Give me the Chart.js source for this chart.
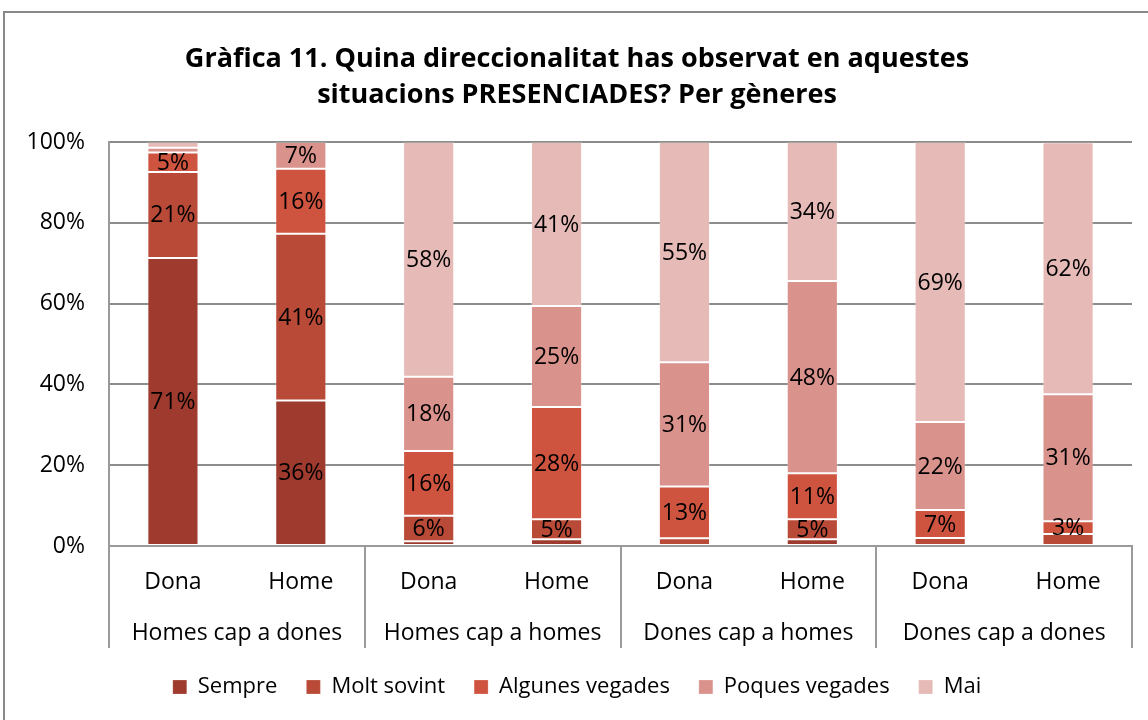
<!DOCTYPE html>
<html><head><meta charset="utf-8">
<script src="https://cdn.jsdelivr.net/npm/chart.js@4.4.1/dist/chart.umd.min.js"></script>
<style>
html,body{margin:0;padding:0;background:#fff;overflow:hidden}
#frame{position:absolute;left:3px;top:11px;width:1200px;height:800px;border:2px solid #898989;box-sizing:border-box}
#c{position:absolute;left:0;top:0}
</style></head><body>
<div id="frame"></div>
<canvas id="c" width="1148" height="720"></canvas>
<script>
const categories = ['Dona','Home','Dona','Home','Dona','Home','Dona','Home'];
const groups = ['Homes cap a dones','Homes cap a homes','Dones cap a homes','Dones cap a dones'];
const seriesNames = ['Sempre','Molt sovint','Algunes vegades','Poques vegades','Mai'];
const sempre         = [71.3, 36.0,  1.2,  1.7,  0.0,  1.7,  0.0,  0.0];
const moltSovint     = [21.3, 41.3,  6.3,  4.9,  1.9,  4.9,  2.0,  2.95];
const algunesVegades = [ 4.8, 16.1, 16.0, 27.8, 12.8, 11.4,  6.9,  3.2];
const poquesVegades  = [ 1.2,  6.6, 18.4, 25.0, 30.8, 47.6, 21.8, 31.4];
const mai            = [ 1.4,  0.0, 58.1, 40.6, 54.5, 34.4, 69.3, 62.4];
const seriesColors = ['#9e3b2e','#b84a37','#cf5440','#da928c','#e6bab6'];
const yTickValues = [0,20,40,60,80,100];

const FONT = "'Open Sans', 'Noto Sans', sans-serif";
const seriesData = [sempre, moltSovint, algunesVegades, poquesVegades, mai];

const datasets = seriesNames.map((n,i)=>({
  label:n, data:seriesData[i], backgroundColor:seriesColors[i],
  borderColor:'rgba(255,255,255,0.22)', borderWidth:1, borderSkipped:false,
  barPercentage:0.8, categoryPercentage:0.5
}));

const extras = {
  id:'extras',
  afterDatasetsDraw(chart){
    const ctx = chart.ctx;
    ctx.save();
    ctx.font = '23px ' + FONT;
    ctx.fillStyle = '#000';
    ctx.textAlign = 'center';
    ctx.textBaseline = 'middle';
    chart.data.datasets.forEach((ds,di)=>{
      const meta = chart.getDatasetMeta(di);
      meta.data.forEach((el,j)=>{
        const v = ds.data[j];
        if (v >= 3) {
          const p = el.getProps(['x','y','base'], true);
          ctx.fillText(Math.round(v)+'%', p.x, (p.y+p.base)/2 + 1);
        }
      });
    });
    ctx.restore();
  },
  afterDraw(chart){
    const ctx = chart.ctx, xs = chart.scales.x, area = chart.chartArea;
    const n = categories.length;
    const cw = (xs.right - xs.left)/n;
    ctx.save();
    ctx.strokeStyle = '#9a9a9a';
    ctx.lineWidth = 2;
    for (let g=0; g<=groups.length; g++){
      const x = Math.round(xs.left + g*2*cw);
      ctx.beginPath(); ctx.moveTo(x, area.bottom); ctx.lineTo(x, area.bottom+102); ctx.stroke();
    }
    ctx.font = '23px ' + FONT;
    ctx.fillStyle = '#000';
    ctx.textAlign = 'center';
    ctx.textBaseline = 'middle';
    groups.forEach((g,i)=>{
      const cx = (xs.getPixelForValue(2*i) + xs.getPixelForValue(2*i+1))/2;
      ctx.fillText(g, cx, area.bottom + 87);
    });
    ctx.restore();
  }
};

new Chart(document.getElementById('c'), {
  type:'bar',
  data:{labels:categories, datasets},
  plugins:[extras],
  options:{
    responsive:false, animation:false,
    layout:{padding:{left:22,right:16,top:0,bottom:12}},
    plugins:{
      title:{display:true, text:['Gràfica 11. Quina direccionalitat has observat en aquestes','situacions PRESENCIADES? Per gèneres'],
        color:'#000', font:{family:FONT, size:27, weight:'bold', lineHeight:1.3333}, padding:{top:41,bottom:29}},
      legend:{position:'bottom', labels:{color:'#000', font:{family:FONT,size:22}, boxWidth:14, boxHeight:14, padding:29}},
      tooltip:{enabled:false}
    },
    scales:{
      x:{stacked:true, grid:{display:false, drawTicks:false},
        border:{display:true, color:'#9a9a9a', width:2},
        ticks:{color:'#000', font:{family:FONT,size:23}, padding:23, maxRotation:0},
        afterFit(s){ s.height = 101; }},
      y:{stacked:true, min:0, max:100,
        afterBuildTicks(s){ s.ticks = yTickValues.map(v=>({value:v})); },
        grid:{color:'#8c8c8c', lineWidth:2, drawTicks:false},
        border:{display:true, color:'#9a9a9a', width:2},
        ticks:{color:'#000', font:{family:FONT,size:23}, padding:24, callback:v=>v+'%'},
        afterFit(s){ s.width = 87; }}
    }
  }
});
</script>
</body></html>
